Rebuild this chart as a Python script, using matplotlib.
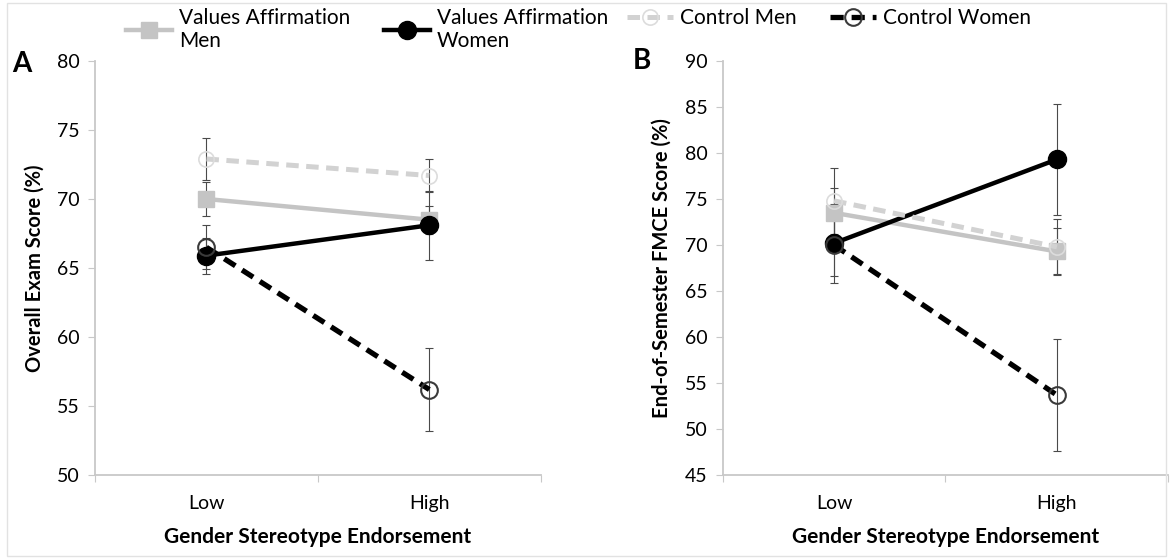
import numpy as np
import matplotlib
matplotlib.use("Agg")
import matplotlib.pyplot as plt
from matplotlib.patches import Rectangle

plt.rcParams['font.family'] = ['Lato', 'DejaVu Sans']

# categories on the x axis
levels = ['Low', 'High']

# panel A - overall exam score (%)
exam_va_men = [70.0, 68.5]
exam_va_men_err = [1.2, 1.0]
exam_va_women = [65.9, 68.1]
exam_va_women_err = [1.3, 2.5]
exam_ctrl_men = [72.9, 71.7]
exam_ctrl_men_err = [1.5, 1.2]
exam_ctrl_women = [66.5, 56.2]
exam_ctrl_women_err = [1.6, 3.0]

# panel B - end-of-semester FMCE score (%)
fmce_va_men = [73.5, 69.3]
fmce_va_men_err = [2.7, 2.6]
fmce_va_women = [70.2, 79.3]
fmce_va_women_err = [4.3, 6.0]
fmce_ctrl_men = [74.8, 69.8]
fmce_ctrl_men_err = [3.6, 3.0]
fmce_ctrl_women = [70.0, 53.7]
fmce_ctrl_women_err = [3.4, 6.1]

legend_labels = ['Values Affirmation\nMen', 'Values Affirmation\nWomen',
                 'Control Men', 'Control Women']

GRAY = '#c4c4c4'
LGRAY = '#d2d2d2'
ERR = '#4a4a4a'
AXC = '#c8c8c8'

styles = [
    dict(color=GRAY, ls='-', lw=3.2, marker='s', ms=11, mfc=GRAY, mec=GRAY),
    dict(color='black', ls='-', lw=3.2, marker='o', ms=13, mfc='black', mec='black'),
    dict(color=LGRAY, ls=(0, (2.5, 1.5)), lw=3.6, marker='o', ms=11, mfc='none', mec='#dcdcdc', mew=1.2),
    dict(color='black', ls=(0, (2.5, 1.5)), lw=3.8, marker='o', ms=12, mfc='none', mec='#3a3a3a', mew=1.5),
]


def draw_panel(ax, series, errs, ylim, yticks, ylabel):
    x = np.arange(len(levels)) + 0.5
    handles = []
    for vals, err, st in zip(series, errs, styles):
        ax.errorbar(x, vals, yerr=err, fmt='none', ecolor=ERR, elinewidth=0.8,
                    capsize=3, capthick=0.8, zorder=2)
        h, = ax.plot(x, vals, zorder=3, **st)
        handles.append(h)
    ax.set_xlim(0, 2)
    ax.set_ylim(*ylim)
    ax.set_yticks(yticks)
    ax.set_xticks([0, 1, 2])
    ax.set_xticklabels([])
    ax.set_xticks(x, minor=True)
    ax.set_xticklabels(levels, minor=True)
    ax.tick_params(axis='x', which='minor', length=0, labelsize=14, pad=14)
    ax.tick_params(axis='x', which='major', length=5, direction='out', color=AXC)
    ax.tick_params(axis='y', length=5, color=AXC, labelsize=14, pad=6)
    for s in ['top', 'right']:
        ax.spines[s].set_visible(False)
    for s in ['left', 'bottom']:
        ax.spines[s].set_color(AXC)
        ax.spines[s].set_linewidth(1.3)
    ax.set_ylabel(ylabel, fontsize=14.5, fontweight='bold', labelpad=9)
    ax.set_xlabel('Gender Stereotype Endorsement', fontsize=15, fontweight='bold', labelpad=11)
    return handles


fig = plt.figure(figsize=(11.73, 5.59), dpi=100)
axA = fig.add_axes([0.081, 0.150, 0.380, 0.741])
axB = fig.add_axes([0.616, 0.150, 0.380, 0.741])

hA = draw_panel(axA,
                [exam_va_men, exam_va_women, exam_ctrl_men, exam_ctrl_women],
                [exam_va_men_err, exam_va_women_err, exam_ctrl_men_err, exam_ctrl_women_err],
                (50, 80), range(50, 81, 5), 'Overall Exam Score (%)')
draw_panel(axB,
           [fmce_va_men, fmce_va_women, fmce_ctrl_men, fmce_ctrl_women],
           [fmce_va_men_err, fmce_va_women_err, fmce_ctrl_men_err, fmce_ctrl_women_err],
           (45, 90), range(45, 91, 5), 'End-of-Semester FMCE Score (%)')

fig.text(22 / 1173, 0.886, 'A', fontsize=20, fontweight='bold', ha='center', va='center')
fig.text(642 / 1173, 0.891, 'B', fontsize=20, fontweight='bold', ha='center', va='center')

legkw = dict(loc='upper left', ncol=2, frameon=False, fontsize=15, handlelength=2.2,
             handletextpad=0.35, columnspacing=1.6, borderpad=0, borderaxespad=0,
             labelspacing=0.2)
fig.legend(hA[:2], legend_labels[:2], bbox_to_anchor=(126 / 1173, 1 - 8 / 559), **legkw)
fig.legend(hA[2:], legend_labels[2:], bbox_to_anchor=(627 / 1173, 1 - 8 / 559), **legkw)

# light chart-area border
fig.patches.append(Rectangle((0.006, 0.006), 0.988, 0.988, transform=fig.transFigure,
                             fill=False, ec='#e2e2e2', lw=1))

fig.savefig('out.png', dpi=100)
